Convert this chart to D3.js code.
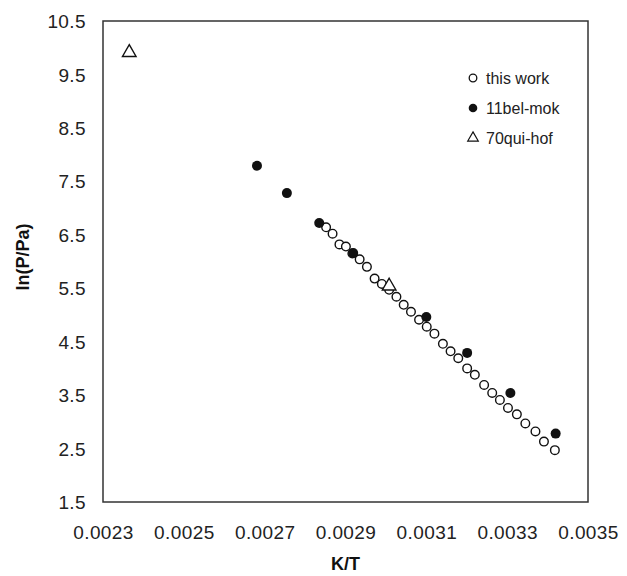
<!DOCTYPE html>
<html>
<head>
<meta charset="utf-8">
<script src="https://cdn.jsdelivr.net/npm/d3@7"></script>
<style>
	body { margin: 0; background: #fff; }
	svg { display: block; font-family: "Liberation Sans", Arial, sans-serif; }
	.tick text { fill: #222; font-size: 19px; letter-spacing: 0.4px; }
	.axis-title { fill: #111; font-size: 18px; font-weight: bold; }
	.key text { fill: #222; font-size: 16px; }
</style>
</head>
<body>
<div class="chart"></div>
<script>
// ln(P/Pa) vs K/T
const thisWorkX = [0.002852, 0.002868, 0.002885, 0.002901, 0.002917, 0.002935, 0.002953, 0.002972, 0.002990, 0.003008,
	0.003026, 0.003044, 0.003062, 0.003082, 0.003101, 0.003120, 0.003141, 0.003160, 0.003179, 0.003201,
	0.003220, 0.003243, 0.003263, 0.003282, 0.003302, 0.003324, 0.003345, 0.003370, 0.003391, 0.003418]
const thisWorkY = [6.64, 6.52, 6.32, 6.28, 6.15, 6.04, 5.90, 5.68, 5.58, 5.47,
	5.34, 5.19, 5.06, 4.91, 4.78, 4.65, 4.46, 4.32, 4.19, 4.00,
	3.88, 3.69, 3.54, 3.41, 3.26, 3.14, 2.97, 2.82, 2.63, 2.47]

const belMokX = [0.002681, 0.002755, 0.002835, 0.002919, 0.003100, 0.003201, 0.003308, 0.003420]
const belMokY = [7.79, 7.28, 6.72, 6.16, 4.96, 4.29, 3.54, 2.78]

const quiHofX = [0.002365, 0.003008]
const quiHofY = [9.91, 5.54]

const xTicks = [0.0023, 0.0025, 0.0027, 0.0029, 0.0031, 0.0033, 0.0035]
const yTicks = [1.5, 2.5, 3.5, 4.5, 5.5, 6.5, 7.5, 8.5, 9.5, 10.5]
const keyLabels = ["this work", "11bel-mok", "70qui-hof"]

let width = 627
let height = 576
let margin = { top: 21, right: 39, bottom: 74, left: 103 }

let svg = d3.select(".chart").append("svg")
	.attr("width", width)
	.attr("height", height)

let xScale = d3.scaleLinear()
	.domain([0.0023, 0.0035])
	.range([margin.left, width - margin.right])

let yScale = d3.scaleLinear()
	.domain([1.5, 10.5])
	.range([height - margin.bottom, margin.top])

let xAxis = d3.axisBottom(xScale)
	.tickValues(xTicks)
	.tickSize(0)
	.tickFormat(d3.format(".4f"))

let yAxis = d3.axisLeft(yScale)
	.tickValues(yTicks)
	.tickSize(0)
	.tickFormat(d3.format(".1f"))

let xG = svg.append("g")
	.attr("class", "axis")
	.attr("transform", "translate(0," + (height - margin.bottom) + ")")
	.call(xAxis)
xG.select(".domain").remove()
xG.selectAll("text").attr("y", 37).attr("dy", null)

let yG = svg.append("g")
	.attr("class", "axis")
	.attr("transform", "translate(" + margin.left + ",0)")
	.call(yAxis)
yG.select(".domain").remove()
yG.selectAll("text").attr("x", -17).attr("dy", "0.35em")

// plot frame
svg.append("rect")
	.attr("x", margin.left)
	.attr("y", margin.top)
	.attr("width", width - margin.left - margin.right)
	.attr("height", height - margin.top - margin.bottom)
	.attr("fill", "none")
	.attr("stroke", "#333")
	.attr("stroke-width", 1.5)

svg.append("text")
	.attr("class", "axis-title")
	.attr("x", (margin.left + width - margin.right) / 2)
	.attr("y", 570)
	.attr("text-anchor", "middle")
	.text("K/T")

svg.append("text")
	.attr("class", "axis-title")
	.attr("transform", "translate(29," + 257 + ") rotate(-90)")
	.attr("text-anchor", "middle")
	.text("ln(P/Pa)")

let tri = d3.symbol().type(d3.symbolTriangle).size(80)
let triSmall = d3.symbol().type(d3.symbolTriangle).size(48)

svg.append("g").selectAll("circle")
	.data(thisWorkX)
	.join("circle")
	.attr("cx", d => xScale(d))
	.attr("cy", (d, i) => yScale(thisWorkY[i]))
	.attr("r", 4.3)
	.attr("fill", "#fff")
	.attr("stroke", "#111")
	.attr("stroke-width", 1.4)

svg.append("g").selectAll("circle")
	.data(belMokX)
	.join("circle")
	.attr("cx", d => xScale(d))
	.attr("cy", (d, i) => yScale(belMokY[i]))
	.attr("r", 5)
	.attr("fill", "#111")

svg.append("g").selectAll("path")
	.data(quiHofX)
	.join("path")
	.attr("d", tri)
	.attr("transform", (d, i) => "translate(" + xScale(d) + "," + yScale(quiHofY[i]) + ")")
	.attr("fill", "#fff")
	.attr("stroke", "#111")
	.attr("stroke-width", 1.4)

// key
let key = svg.append("g").attr("class", "key")
let keyX = 473
let keyY = 78
let keyStep = 30

key.append("circle")
	.attr("cx", keyX).attr("cy", keyY).attr("r", 3.8)
	.attr("fill", "#fff").attr("stroke", "#111").attr("stroke-width", 1.3)
key.append("circle")
	.attr("cx", keyX).attr("cy", keyY + keyStep).attr("r", 4.3)
	.attr("fill", "#111")
key.append("path")
	.attr("d", triSmall)
	.attr("transform", "translate(" + keyX + "," + (keyY + keyStep * 2) + ")")
	.attr("fill", "#fff").attr("stroke", "#111").attr("stroke-width", 1.2)

key.selectAll("text")
	.data(keyLabels)
	.join("text")
	.attr("x", keyX + 13)
	.attr("y", (d, i) => keyY + i * keyStep)
	.attr("dy", "0.36em")
	.text(d => d)
</script>
</body>
</html>
